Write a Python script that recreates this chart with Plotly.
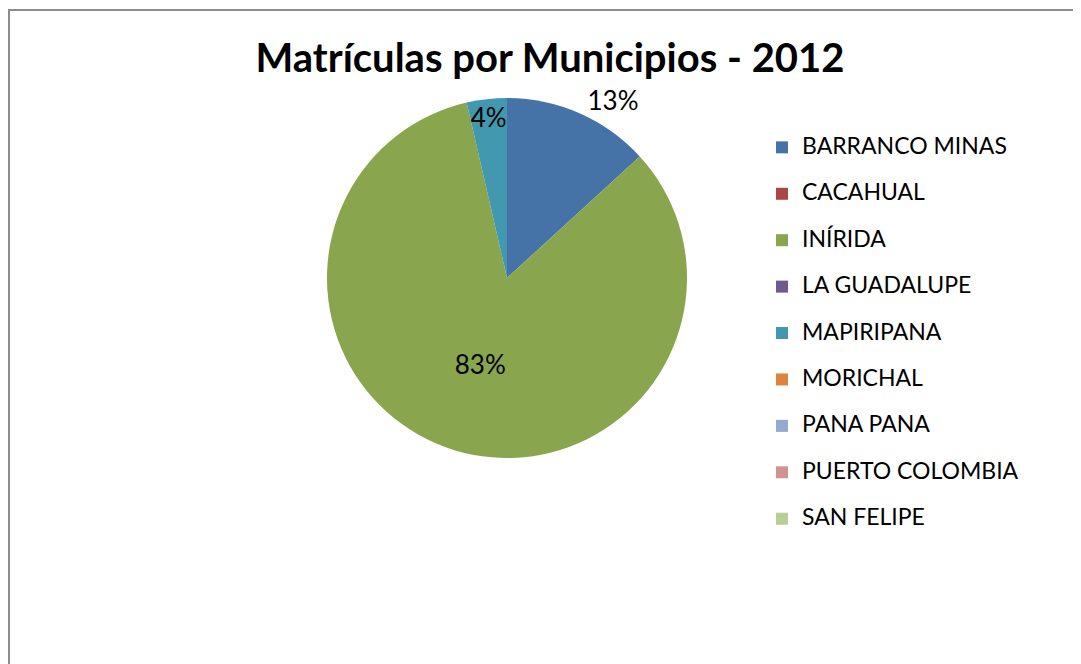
import plotly.graph_objects as go

municipios = ["BARRANCO MINAS", "CACAHUAL", "INÍRIDA", "LA GUADALUPE", "MAPIRIPANA",
              "MORICHAL", "PANA PANA", "PUERTO COLOMBIA", "SAN FELIPE"]
matriculas = [13.2, 0, 83.2, 0, 3.6, 0, 0, 0, 0]
colores = ["#4572A7", "#AA4643", "#89A54E", "#71588F", "#4198AF",
           "#DB843D", "#93A9CF", "#D19392", "#B9CD96"]
posiciones = ["outside", "inside", "inside", "inside", "inside",
              "inside", "inside", "inside", "inside"]

# the page body has an 8px margin, so the figure is 8px smaller than the window
W, H = 1073, 656
FONT = "Lato"

# legend labels get an empty second line so entries are spaced like the original
legend_labels = [f"<span style='font-size:23px'>{m}</span><br> " for m in municipios]
textos = ["%{percent:.0%}" if v > 0 else "" for v in matriculas]

fig = go.Figure(go.Pie(
    labels=legend_labels,
    values=matriculas,
    sort=False,
    direction="clockwise",
    rotation=0,
    marker=dict(colors=colores, line=dict(width=0)),
    texttemplate=textos,
    textposition=posiciones,
    insidetextorientation="horizontal",
    textfont=dict(family=FONT, size=26, color="black"),
    outsidetextfont=dict(family=FONT, size=26, color="black"),
    insidetextfont=dict(family=FONT, size=26, color="black"),
    domain=dict(x=[319 / W, 679 / W], y=[1 - 450 / H, 1 - 90 / H]),
    hoverinfo="skip",
))

fig.update_layout(
    width=W,
    height=H,
    margin=dict(l=0, r=0, t=0, b=0),
    paper_bgcolor="white",
    title=dict(
        text="<b>Matrículas por Municipios - 2012</b>",
        font=dict(family=FONT, size=40, color="black"),
        x=542 / W, xanchor="center",
        y=1 - 50 / H, yanchor="middle",
    ),
    uniformtext=dict(minsize=26, mode="show"),
    legend=dict(
        x=754 / W, xanchor="left",
        y=1 - 122 / H, yanchor="top",
        valign="top",
        font=dict(family=FONT, size=16.7, color="black"),
        bgcolor="rgba(0,0,0,0)",
    ),
    shapes=[dict(
        type="rect", xref="paper", yref="paper",
        x0=1 / W, x1=1.2, y0=-0.2, y1=1 - 2 / H,
        line=dict(color="#8c8c8c", width=2),
    )],
)

fig.write_html("out.html")
